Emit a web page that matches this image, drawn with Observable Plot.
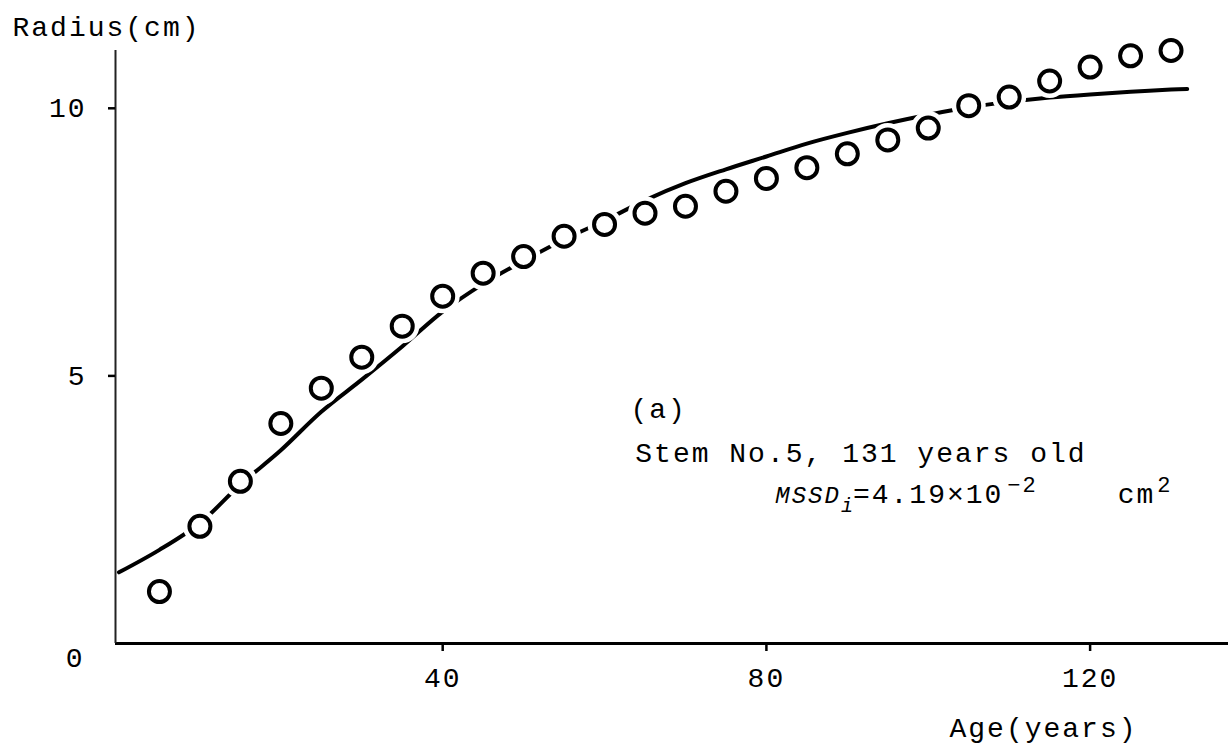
<!DOCTYPE html>
<html><head><meta charset="utf-8">
<script src="https://cdn.jsdelivr.net/npm/d3@7"></script>
<script src="https://cdn.jsdelivr.net/npm/@observablehq/plot@0.6"></script>
<style>body{margin:0;background:#fff}</style>
</head><body><div id="chart"></div>
<script>
// Observed radius (circles)
const ages = [5,10,15,20,25,30,35,40,45,50,55,60,65,70,75,80,85,90,95,100,105,110,115,120,125,130];
const radiusObserved = [0.97,2.19,3.03,4.11,4.77,5.35,5.93,6.49,6.92,7.23,7.61,7.83,8.04,8.17,8.45,8.69,8.89,9.15,9.41,9.63,10.05,10.21,10.51,10.77,10.98,11.08];
// Model curve (solid line)
const modelAges = [0,5,10,15,20,25,30,35,40,45,50,55,60,65,70,75,80,85,90,95,100,105,110,115,120,125,130,132];
const radiusModel = [1.33,1.75,2.25,2.97,3.61,4.33,4.93,5.55,6.2,6.72,7.15,7.55,7.9,8.28,8.6,8.86,9.1,9.34,9.54,9.72,9.88,10.02,10.12,10.2,10.26,10.31,10.35,10.36];
const xTicks = [40,80,120];
const yTicks = [5,10];
const yZeroTick = [0];
const xLabel = "Age(years)";
const yLabel = "Radius(cm)";
const notes = ["(a)", "Stem No.5, 131 years old", "MSSD_LINE"];
const noteX = [63.2, 63.8, 81.1];
const noteY = [4.39, 3.55, 2.8];

const observed = ages.map((a,i)=>({age:a, r:radiusObserved[i]}));
const model = modelAges.map((a,i)=>({age:a, r:radiusModel[i]}));
const noteData = notes.map((t,i)=>({t, x:noteX[i], y:noteY[i]}));

const font = "'Liberation Mono', 'DejaVu Sans Mono', monospace";
const chart = Plot.plot({
  width:1228, height:748,
  marginLeft:115, marginRight:0, marginTop:50, marginBottom:105,
  x:{domain:[-0.43,137.1]},
  y:{domain:[0,11.08]},
  style:{fontFamily:font, fontSize:"28px", color:"#000", background:"#fff", overflow:"visible", letterSpacing:"2px"},
  marks:[
    Plot.ruleY([0], {stroke:"#000", strokeWidth:3}),
    Plot.ruleX([-0.43], {y1:0, y2:11.08, stroke:"#222", strokeWidth:2}),
    Plot.axisX({ticks:xTicks, tickSize:8, tickPadding:16, strokeWidth:2.5, fontSize:28, label:null}),
    Plot.axisY({ticks:yTicks, tickSize:7, tickPadding:22, strokeWidth:2.5, fontSize:28, label:null}),
    Plot.axisY({ticks:yZeroTick, tickSize:0, tickPadding:31, dy:15, fontSize:28, label:null}),
    Plot.line(model, {x:"age", y:"r", stroke:"#000", strokeWidth:4, curve:"catmull-rom"}),
    Plot.dot(observed, {x:"age", y:"r", r:10.5, fill:"#fff", stroke:"#fff", strokeWidth:13}),
    Plot.dot(observed, {x:"age", y:"r", r:10.5, fill:"none", stroke:"#000", strokeWidth:4}),
    Plot.text([yLabel], {frameAnchor:"top-left", dx:-103, dy:-23, textAnchor:"start", lineAnchor:"middle", fontSize:28}),
    Plot.text([xLabel], {frameAnchor:"bottom-right", dx:-91, dy:85, textAnchor:"end", lineAnchor:"middle", fontSize:28}),
    Plot.text(noteData, {x:"x", y:"y", text:"t", textAnchor:"start", lineAnchor:"middle", fontSize:28})
  ]
});
document.getElementById("chart").appendChild(chart);
// rich text for the MSSD annotation
d3.select(chart).selectAll("text").filter(function(){ return this.textContent === "MSSD_LINE"; })
  .each(function(){
    const t = d3.select(this);
    t.text(null);
    t.append("tspan").attr("font-style","italic").attr("font-size",24).text("MSSD");
    t.append("tspan").attr("font-style","italic").attr("font-size",20).attr("dy",9).text("i");
    t.append("tspan").attr("dy",-9).attr("dx",-2).text("=4.19×10");
    t.append("tspan").attr("font-size",22).attr("dy",-11).attr("dx",4).text("−2");
    t.append("tspan").attr("dy",11).attr("dx",80).text("cm");
    t.append("tspan").attr("font-size",22).attr("dy",-11).attr("dx",2).text("2");
  });
</script>
</body></html>
